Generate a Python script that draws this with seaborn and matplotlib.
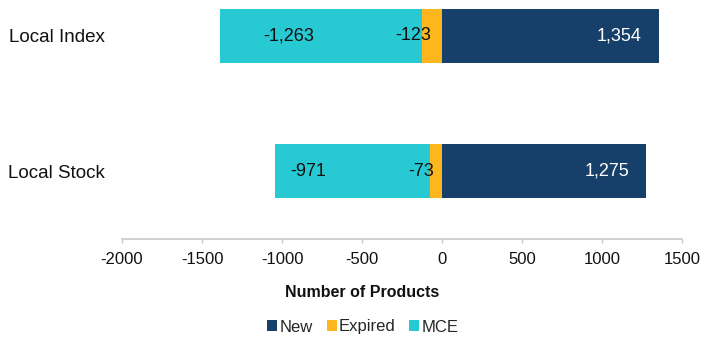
import matplotlib
matplotlib.use("Agg")
import matplotlib.pyplot as plt
import seaborn as sns
import pandas as pd
from matplotlib.patches import Patch

categories = ["Local Index", "Local Stock"]
new = [1354, 1275]
expired = [-123, -73]
mce = [-1263, -971]

x_ticks = [-2000, -1500, -1000, -500, 0, 500, 1000, 1500]

colors = {"New": "#16406A", "Expired": "#FDB71C", "MCE": "#27CAD3"}

sns.set_theme(style="white")
plt.rcParams["font.family"] = ["Liberation Sans", "DejaVu Sans"]

df = pd.DataFrame({
    "category": categories,
    "new": new,
    "expired": expired,
    "neg_total": [e + m for e, m in zip(expired, mce)],
})

fig = plt.figure(figsize=(7.03, 3.40), dpi=100)
ax = fig.add_axes([122 / 703, 1 - 239 / 340, 560 / 703, 239 / 340])

# negative side: full MCE+Expired length first, Expired drawn over it
bar_kw = dict(orient="h", width=0.4, saturation=1, linewidth=0, ax=ax)
sns.barplot(data=df, y="category", x="neg_total", color=colors["MCE"], **bar_kw)
sns.barplot(data=df, y="category", x="expired", color=colors["Expired"], **bar_kw)
sns.barplot(data=df, y="category", x="new", color=colors["New"], **bar_kw)

ax.set_xlim(-2000, 1500)
ax.set_ylim(1.5, -0.264)
ax.set_xticks(x_ticks)
ax.set_xticklabels([str(t) for t in x_ticks], fontsize=12)
ax.tick_params(axis="x", direction="out", length=3, width=1, color="#C8C8C8",
               pad=6, bottom=True, labelcolor="#111111")
ax.tick_params(axis="y", length=0, pad=12, labelsize=13.5, labelcolor="#111111")
ax.set_ylabel("")
for s in ["top", "right", "left"]:
    ax.spines[s].set_visible(False)
ax.spines["bottom"].set_color("#C8C8C8")
ax.spines["bottom"].set_linewidth(1.2)

ax.set_xlabel("Number of Products", fontsize=11.5, fontweight="bold", color="#111111")
ax.xaxis.set_label_coords((362 - 122) / 560, -0.192)

# value labels
mce_label_x = [-956, -837]
for i in range(len(categories)):
    ax.text(new[i] - 245, i, f"{new[i]:,}", ha="center", va="center",
            fontsize=13, color="white")
    ax.text(expired[i] - 55, i, f"{expired[i]:,}", ha="center", va="center",
            fontsize=13, color="#111111")
    ax.text(mce_label_x[i], i, f"{mce[i]:,}", ha="center", va="center",
            fontsize=13, color="#111111")

handles = [Patch(facecolor=colors[k], edgecolor="none", label=k)
           for k in ["New", "Expired", "MCE"]]
fig.legend(handles=handles, loc="center", bbox_to_anchor=(363 / 703, 1 - 327 / 340),
           ncol=3, frameon=False, fontsize=12, handlelength=0.6, handleheight=0.6,
           handletextpad=0.15, columnspacing=0.8)

fig.savefig("out.png", dpi=100)
